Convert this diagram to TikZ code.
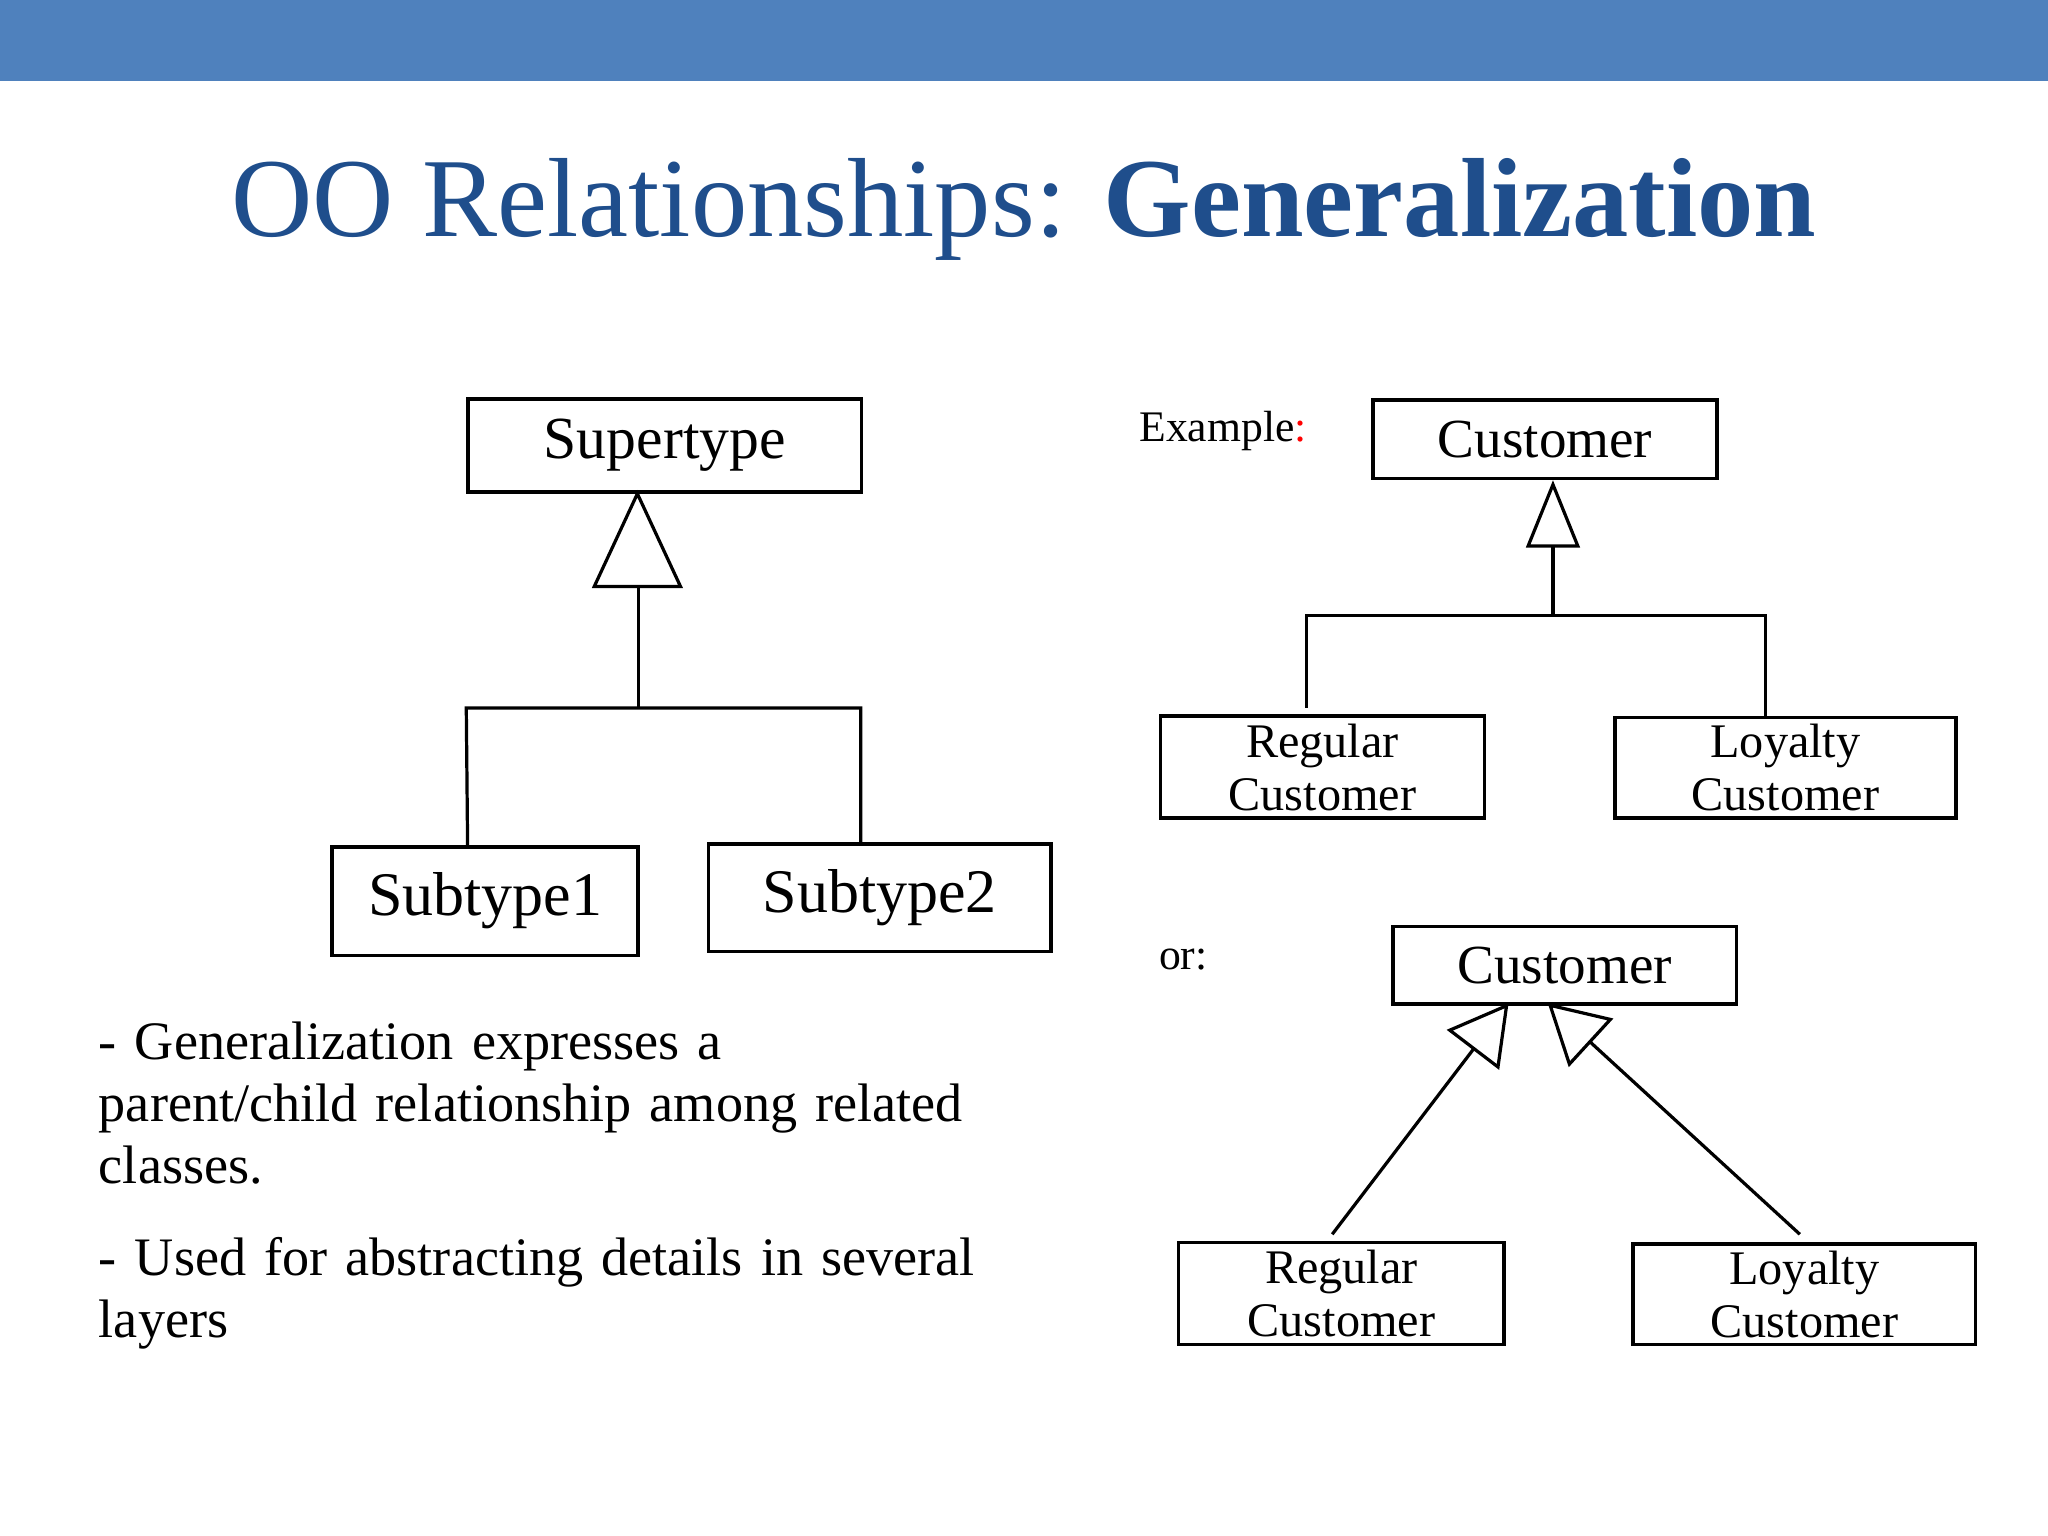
\documentclass[tikz,border=0pt]{standalone}
\usepackage{fontspec}
\setmainfont{Liberation Serif}
\usetikzlibrary{arrows.meta}
\definecolor{band}{HTML}{4F81BD}
\definecolor{ttl}{HTML}{1F4E8C}
\tikzset{box/.style={draw,thick,inner sep=0pt,anchor=north west},
ln/.style={line width=0.7pt},
gen/.style={ln,-{Triangle[open,length=0.45cm,width=0.5cm]}},
small/.style={align=center,font=\fontsize{10.5}{11.5}\selectfont},
body/.style={anchor=north west,align=left,text width=7.2cm,inner sep=0pt,font=\fontsize{11.8}{13.4}\selectfont}}
\begin{document}
\begin{tikzpicture}[x=0.01cm,y=-0.01cm]
\useasboundingbox (0,0) rectangle (1568,1176);
\fill[band] (0,0) rectangle (1568,62);
\node (title) at (784,160) {\fontsize{24.5}{29}\selectfont\color{ttl}OO Relationships: \textbf{Generalization}};
% left diagram
\node[box,minimum width=3.01cm,minimum height=0.71cm,font=\fontsize{13}{15}\selectfont] (sup) at (357,304) {Supertype};
\node[box,minimum width=2.34cm,minimum height=0.83cm,font=\fontsize{13.5}{15}\selectfont] (s1) at (253,647) {Subtype1};
\node[box,minimum width=2.62cm,minimum height=0.82cm,font=\fontsize{13.5}{15}\selectfont] (s2) at (541,645) {Subtype2};
\draw[ln] (488,378) -- (455,449) -- (521,449) -- cycle;
\draw[ln] (489,449) -- (489,542);
\draw[ln] (358,647) -- (357,542) -- (659,542) -- (659,645);
% example
\node[anchor=west,font=\fontsize{9.5}{11}\selectfont] (ex) at (860,330) {Example\textcolor{red}{:}};
\node[box,minimum width=2.63cm,minimum height=0.6cm,font=\fontsize{12}{14}\selectfont] (c1) at (1050,305) {Customer};
\node[box,minimum width=2.48cm,minimum height=0.78cm,small] (r1) at (887,547) {Regular\\ Customer};
\node[box,minimum width=2.61cm,minimum height=0.77cm,small] (l1) at (1235,548) {Loyalty\\ Customer};
\draw[ln] (1189,371) -- (1170,418) -- (1208,418) -- cycle;
\draw[ln] (1189,418) -- (1189,471);
\draw[ln] (1000,542) -- (1000,471) -- (1352,471) -- (1352,548);
% or
\node[anchor=west,font=\fontsize{9.5}{11}\selectfont] (or) at (875,735) {or:};
\node[box,minimum width=2.63cm,minimum height=0.59cm,font=\fontsize{12}{14}\selectfont] (c2) at (1065,708) {Customer};
\node[box,minimum width=2.49cm,minimum height=0.78cm,small] (r2) at (901,950) {Regular\\ Customer};
\node[box,minimum width=2.62cm,minimum height=0.77cm,small] (l2) at (1249,951) {Loyalty\\ Customer};
\draw[gen] (1020,945) -- (1155,768);
\draw[gen] (1378,945) -- (1185,768);
% text
\node[body] (t1) at (75,782) {\hyphenpenalty=10000\relax - Generalization expresses a\\ parent/child relationship among related classes.};
\node[body] (t2) at (75,947) {\hyphenpenalty=10000\relax - Used for abstracting details in several layers};
\end{tikzpicture}
\end{document}
